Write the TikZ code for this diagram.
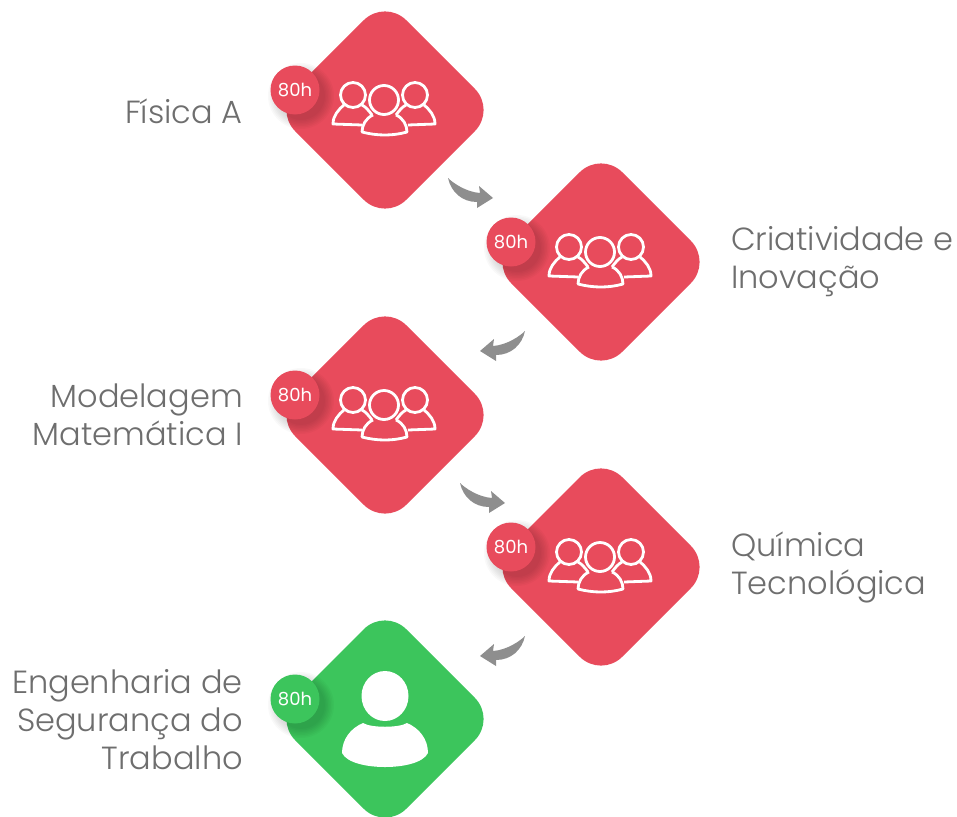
\documentclass[tikz,border=0pt]{standalone}
\usepackage{fontspec}
\setmainfont{Poppins}[UprightFont=* Light]
\newfontfamily\badgefont{Poppins}
\usetikzlibrary{positioning}

\definecolor{cardred}{HTML}{E84B5C}
\definecolor{cardgreen}{HTML}{3CC55C}
\definecolor{arrowgray}{HTML}{8E8E8E}
\definecolor{labelgray}{HTML}{6E6E6E}

\tikzset{
  card/.style={shape=rectangle,rotate=45,minimum size=157pt,rounded corners=30pt,inner sep=0pt},
  badge/.style={circle,minimum size=49pt,inner sep=0pt,text=white,font=\badgefont\fontsize{18}{18}\selectfont},
  course/.style={text=labelgray,font=\fontsize{32}{38}\selectfont,inner sep=0pt},
  iconline/.style={white,line width=2.8pt,line join=round},
  flowarrow/.pic={
    \fill[arrowgray] (0,0) .. controls (5,5) and (18,14) .. (32,15) -- (31,8) -- (45,20)
      -- (29,30) -- (29,24) .. controls (14,24) and (3,14) .. cycle;
  },
  groupicon/.pic={
    \draw[iconline] (-32,-15) circle (12.5) (30,-15) circle (12.5) (-1,-10) circle (14.5);
    %left and right bodies
    \draw[iconline] (-23,15) -- (-52,14) .. controls (-52,6) and (-47,0) .. (-41,-5);
    \draw[iconline] (-23,-5) .. controls (-19,-3) and (-16,1) .. (-13,5);
    \draw[iconline] (23,15) -- (50,14) .. controls (50,6) and (45,0) .. (39,-5);
    \draw[iconline] (21,-5) .. controls (17,-3) and (14,1) .. (11,5);
    %center body
    \draw[iconline] (-12,5) .. controls (-19,8) and (-23,15) .. (-23,22)
      .. controls (-8,26) and (8,26) .. (22,22) .. controls (22,15) and (18,8) .. (11,5);
  },
  singleicon/.pic={
    \fill[white] (0,-23) ellipse (23.5 and 25);
    \fill[white] (-22,4) .. controls (-14,9) and (14,9) .. (22,4)
      .. controls (34,9) and (43,20) .. (43,34) .. controls (38,44) and (18,48) .. (0,48)
      .. controls (-18,48) and (-38,44) .. (-43,34) .. controls (-43,20) and (-34,9) .. (-22,4) -- cycle;
  },
}

\begin{document}
\begin{tikzpicture}[x=1pt,y=-1pt]
  \useasboundingbox (0,0) rectangle (957,816);

  %cards
  \node[card,fill=cardred] (fisica) at (385,110) {};
  \node[card,fill=cardred] (criatividade) at (601,262) {};
  \node[card,fill=cardred] (modelagem) at (385,415) {};
  \node[card,fill=cardred] (quimica) at (601,567) {};
  \node[card,fill=cardgreen] (seguranca) at (385,719) {};

  %icons
  \foreach \card in {fisica,criatividade,modelagem,quimica}
    \pic at (\card.center) {groupicon};
  \pic at (seguranca.center) {singleicon};

  %shadow below the hour badges
  \foreach \card in {fisica,criatividade,modelagem,quimica,seguranca}
    \foreach \r in {24,25.5,...,34}
      \fill[black,opacity=0.025] ([shift={(-84,-14)}]\card.center) circle (\r);

  %hour badges
  \node[badge,fill=cardred] (hfisica) at ([shift={(-90,-20)}]fisica.center) {80h};
  \node[badge,fill=cardred] (hcriatividade) at ([shift={(-90,-20)}]criatividade.center) {80h};
  \node[badge,fill=cardred] (hmodelagem) at ([shift={(-90,-20)}]modelagem.center) {80h};
  \node[badge,fill=cardred] (hquimica) at ([shift={(-90,-20)}]quimica.center) {80h};
  \node[badge,fill=cardgreen] (hseguranca) at ([shift={(-90,-20)}]seguranca.center) {80h};

  %arrows between the cards
  \coordinate (a1) at ([shift={(63,68)}]fisica.center);
  \coordinate (a2) at ([shift={(-76,69)}]criatividade.center);
  \coordinate (a3) at ([shift={(75,68)}]modelagem.center);
  \coordinate (a4) at ([shift={(-76,69)}]quimica.center);
  \pic at (a1) {flowarrow};
  \pic[xscale=-1] at (a2) {flowarrow};
  \pic at (a3) {flowarrow};
  \pic[xscale=-1] at (a4) {flowarrow};

  %course names
  \node[course,anchor=east,align=right] (tfisica) at (243,111) {Física A};
  \node[course,anchor=west,align=left] (tcriatividade) at (731,262) {Criatividade e\\Inovação};
  \node[course,anchor=east,align=right] (tmodelagem) at (243,415) {Modelagem\\Matemática I};
  \node[course,anchor=west,align=left] (tquimica) at (731,567) {Química\\Tecnológica};
  \node[course,anchor=east,align=right] (tseguranca) at (243,720) {Engenharia de\\Segurança do\\Trabalho};
\end{tikzpicture}
\end{document}
